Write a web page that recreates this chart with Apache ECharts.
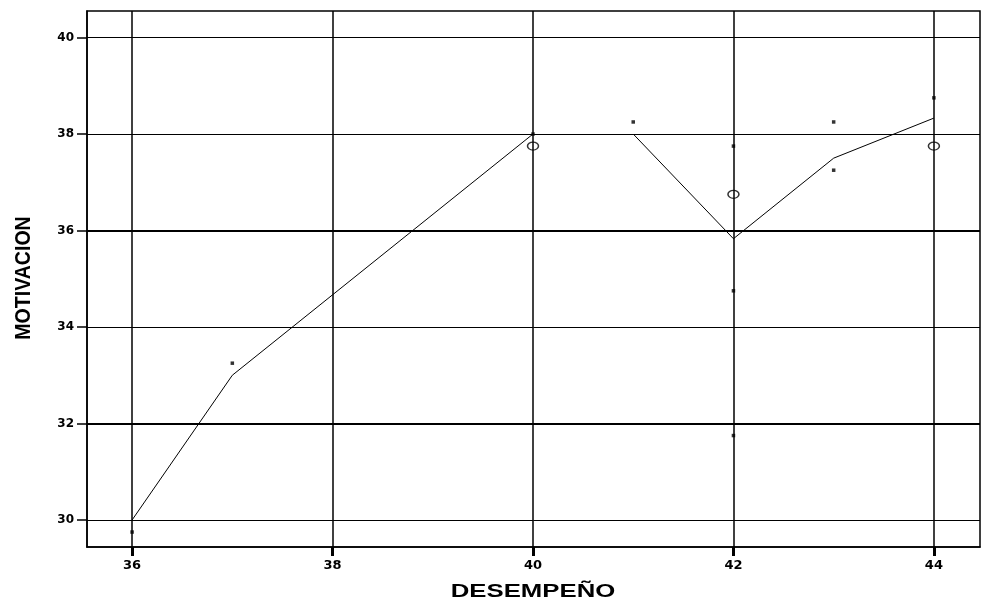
<!DOCTYPE html>
<html>
<head>
<meta charset="utf-8">
<script src="https://cdn.jsdelivr.net/npm/echarts@6/dist/echarts.min.js"></script>
<style>html,body{margin:0;padding:0;background:#fff;}#c{width:981px;height:602px;}</style>
</head>
<body>
<div id="c"></div>
<script>
// ---- data ----
const xTicks = [36, 38, 40, 42, 44];
const yTicks = [30, 32, 34, 36, 38, 40];
const thickY = [32, 36];
const thinY = [30, 34, 38, 40];
// mean line, two segments (break between 40 and 41)
const seg1X = [36, 37, 40];
const seg1Y = [30, 33, 38];
const seg2X = [41, 42, 43, 44];
const seg2Y = [38, 35.83, 37.5, 38.33];
// individual points
const dotX = [36, 37, 40, 41, 42, 42, 42, 43, 43, 44];
const dotY = [29.75, 33.25, 38, 38.25, 37.75, 34.75, 31.75, 38.25, 37.25, 38.75];
// open circle markers
const circX = [40, 42, 44];
const circY = [37.75, 36.75, 37.75];

const zip = (a, b) => a.map((v, i) => [v, b[i]]);

const chart = echarts.init(document.getElementById('c'), null, {renderer: 'canvas'});
const labelFont = {color: '#000', fontFamily: 'DejaVu Sans', fontWeight: 'bold'};

chart.setOption({
  animation: false,
  backgroundColor: '#fff',
  grid: {left: 87, right: 1, top: 11, bottom: 55, show: true, borderColor: '#000', borderWidth: 1.5, backgroundColor: 'transparent'},
  xAxis: {
    type: 'value', min: 35.55, max: 44.46,
    splitLine: {show: false},
    axisLine: {show: true, onZero: false, lineStyle: {color: '#000', width: 1.5}},
    axisTick: {show: true, inside: false, customValues: xTicks, length: 9, lineStyle: {color: '#000', width: 3}},
    axisLabel: Object.assign({customValues: xTicks, fontSize: 13, margin: 12}, labelFont)
  },
  yAxis: {
    type: 'value', min: 29.44, max: 40.55,
    splitLine: {show: false},
    axisLine: {show: true, onZero: false, lineStyle: {color: '#000', width: 1.5}},
    axisTick: {show: true, inside: false, customValues: yTicks, length: 10, lineStyle: {color: '#000', width: 1.5}},
    axisLabel: Object.assign({customValues: yTicks, fontSize: 12, margin: 13}, labelFont)
  },
  graphic: [
    {type: 'text', x: 533, y: 592, scaleX: 1.43, scaleY: 1, z: 10,
     style: {text: 'DESEMPEÑO', font: 'bold 18px "Liberation Sans"', fill: '#000', textAlign: 'center', textVerticalAlign: 'middle'}},
    {type: 'text', x: 24, y: 278, rotation: Math.PI / 2, scaleX: 1.15, scaleY: 1.3, z: 10,
     style: {text: 'MOTIVACION', font: 'bold 17px "Liberation Sans"', fill: '#000', textAlign: 'center', textVerticalAlign: 'middle'}}
  ],
  series: [
    {
      type: 'line', data: [], z: 1, silent: true,
      markLine: {
        silent: true, symbol: 'none', label: {show: false}, animation: false,
        data: [].concat(
          thinY.map(v => ({yAxis: v, lineStyle: {color: '#000', width: 1, type: 'solid'}})),
          thickY.map(v => ({yAxis: v, lineStyle: {color: '#000', width: 2.2, type: 'solid'}})),
          xTicks.map(v => ({xAxis: v, lineStyle: {color: '#000', width: 1.5, type: 'solid'}}))
        )
      }
    },
    {type: 'line', data: zip(seg1X, seg1Y), symbol: 'none', z: 3, lineStyle: {color: '#000', width: 1}},
    {type: 'line', data: zip(seg2X, seg2Y), symbol: 'none', z: 3, lineStyle: {color: '#000', width: 1}},
    {type: 'scatter', data: zip(dotX, dotY), symbol: 'rect', symbolSize: 3.5, z: 4, itemStyle: {color: '#000'}},
    {type: 'scatter', data: zip(circX, circY), symbol: 'circle', symbolSize: [11, 8], z: 4,
     itemStyle: {color: 'rgba(255,255,255,0)', borderColor: '#000', borderWidth: 1.3}}
  ]
});
</script>
</body>
</html>
